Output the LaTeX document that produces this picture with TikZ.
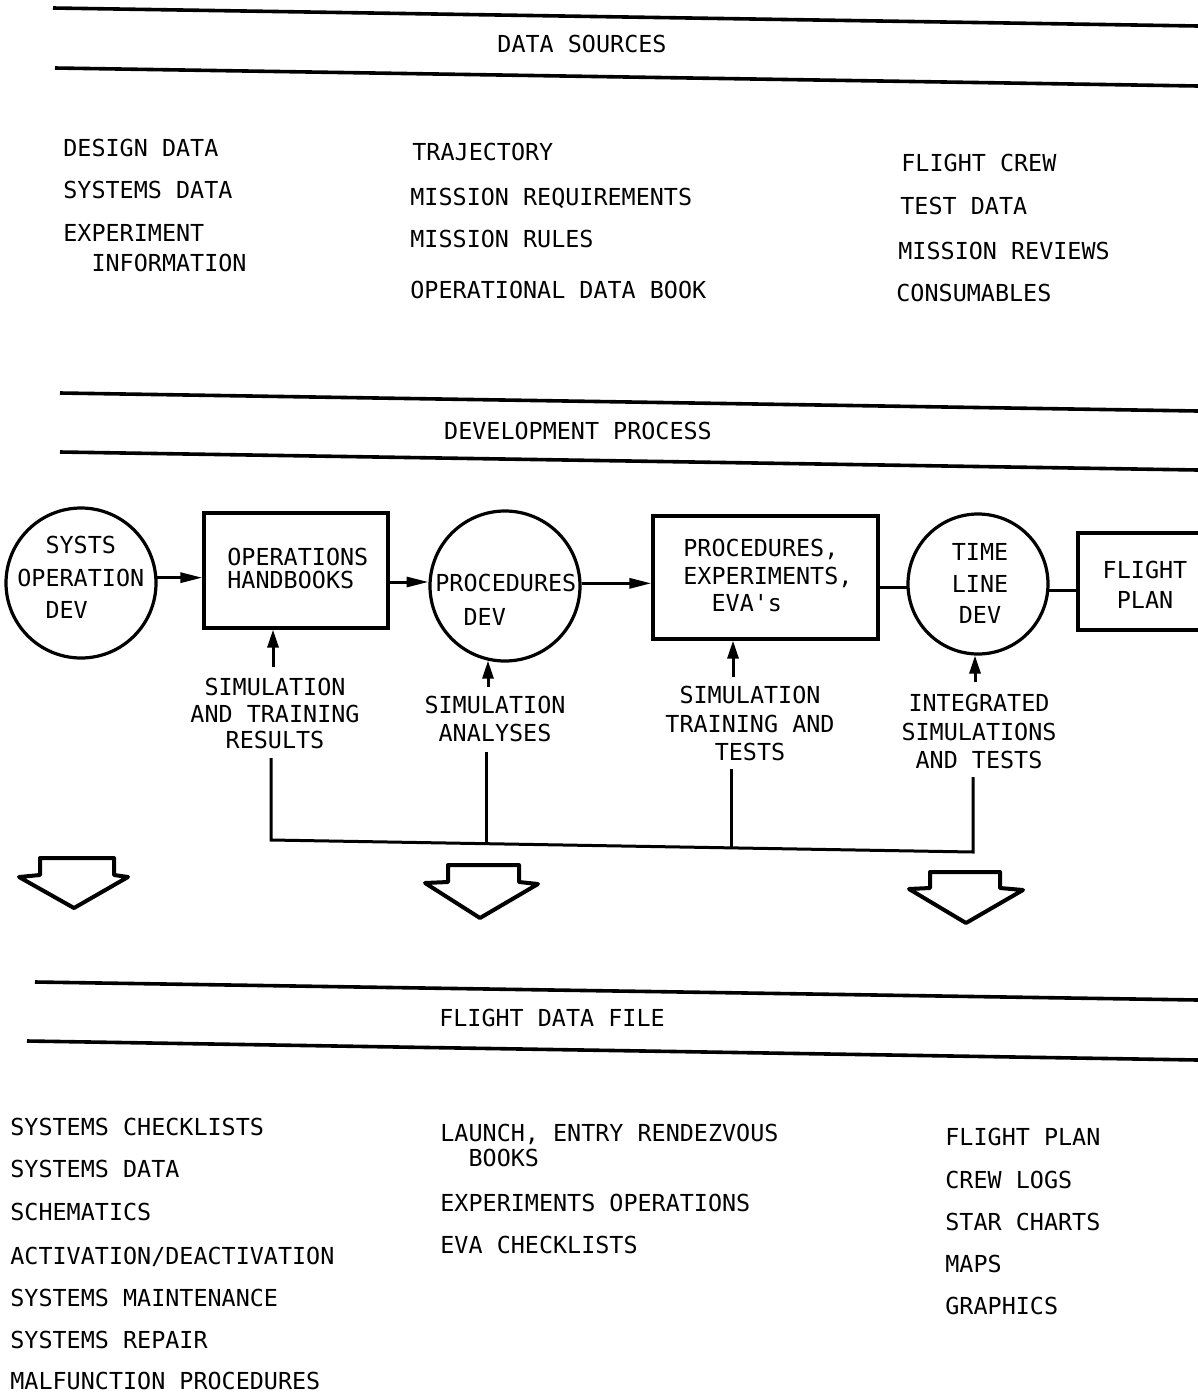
\documentclass[tikz,border=0pt]{standalone}
\usepackage{fontspec}
\newfontfamily\typew{DejaVu Sans Mono}
\usetikzlibrary{arrows.meta}
\newcommand\tfnt[1]{\typew\fontsize{11.7pt}{#1pt}\selectfont}
\begin{document}
\begin{tikzpicture}[x=0.5pt,y=-0.5pt,
  rule/.style={line width=1.8pt},
  shp/.style={draw, line width=1.6pt, inner sep=0pt},
  circ/.style={shp, circle},
  boxs/.style={shp, rectangle},
  lbl/.style={font={\tfnt{14}}, inner sep=0pt, align=center},
  item/.style={font={\tfnt{14}}, inner sep=0pt, anchor=west, text height=8.5pt, text depth=0pt},
  conn/.style={line width=1.5pt},
  arr/.style={conn, -{Triangle[length=11pt,width=5pt]}},
  uparr/.style={conn, -{Triangle[length=9pt,width=5.5pt]}},
  hollow/.style={line width=2pt, line join=round}]
\useasboundingbox (0,0) rectangle (1198,1393);
\clip (0,0) rectangle (1198,1393);

% rules
\draw[rule] (53,8) -- (1198,26);
\draw[rule] (55,68) -- (1198,86);
\draw[rule] (60,393) -- (1198,411);
\draw[rule] (60,452) -- (1198,470);
\draw[rule] (35,982) -- (1198,1000);
\draw[rule] (27,1041) -- (1198,1060);

% titles
\node[item, anchor=center] (ds) at (582,44) {DATA SOURCES};
\node[item, anchor=center] (dp) at (578,431) {DEVELOPMENT PROCESS};
\node[item, anchor=center] (fdf) at (552,1018) {FLIGHT DATA FILE};

% data sources
\node[item] (s11) at (63,148) {DESIGN DATA};
\node[item] (s12) at (63,190) {SYSTEMS DATA};
\node[lbl, align=left, anchor=west, font={\tfnt{15}}] (s13) at (63,248) {EXPERIMENT\\\phantom{XX}INFORMATION};
\node[item] (s21) at (412,152) {TRAJECTORY};
\node[item] (s22) at (410,197) {MISSION REQUIREMENTS};
\node[item] (s23) at (410,239) {MISSION RULES};
\node[item] (s24) at (410,290) {OPERATIONAL DATA BOOK};
\node[item] (s31) at (901,163) {FLIGHT CREW};
\node[item] (s32) at (900,206) {TEST DATA};
\node[item] (s33) at (898,251) {MISSION REVIEWS};
\node[item] (s34) at (896,293) {CONSUMABLES};

% process shapes
\node[circ, minimum size=75pt] (c1) at (81,583) {};
\node[boxs, minimum width=92pt, minimum height=57.5pt] (b1) at (296,570.5) {};
\node[circ, minimum size=75pt] (c2) at (505,586) {};
\node[boxs, minimum width=112.5pt, minimum height=61.5pt] (b2) at (765.5,577.5) {};
\node[circ, minimum size=70pt] (c3) at (978,584) {};
\node[boxs, minimum width=71pt, minimum height=48.5pt] (b3) at (1149,581.5) {};

% process texts
\node[lbl, align=left, anchor=west, font={\tfnt{16.25}}] (t1) at (17,577.5) {\phantom{XX}SYSTS\\OPERATION\\\phantom{XX}DEV};
\node[lbl, align=left, anchor=west, font={\tfnt{11.5}}] (t2) at (227,568.5) {OPERATIONS\\HANDBOOKS};
\node[lbl, align=left, anchor=west, font={\tfnt{17}}] (t3) at (435,600) {PROCEDURES\\\phantom{XX}DEV};
\node[lbl, align=left, anchor=west, font={\tfnt{13.75}}] (t4) at (683,575.5) {PROCEDURES,\\EXPERIMENTS,\\\phantom{XX}EVA's};
\node[lbl, font={\tfnt{15.75}}] (t5) at (980,583.5) {TIME\\LINE\\DEV};
\node[lbl, font={\tfnt{15}}] (t6) at (1145,585) {FLIGHT\\PLAN};

% connectors
\draw[arr] (c1.4) -- (c1.4 -| b1.west);
\draw[arr] (b1.east |- c2.177) -- (c2.177);
\draw[arr] (c2.2) -- (c2.2 -| b2.west);
\draw[conn] (b2.east |- c3.183) -- (c3.183);
\draw[conn] (c3.355) -- (c3.355 -| b3.west);

% input labels
\node[lbl, font={\tfnt{13.25}}] (l1) at (275,713.5) {SIMULATION\\AND TRAINING\\RESULTS};
\node[lbl, font={\tfnt{14}}] (l2) at (495,719) {SIMULATION\\ANALYSES};
\node[lbl, font={\tfnt{14.25}}] (l3) at (750,723.5) {SIMULATION\\TRAINING AND\\TESTS};
\node[lbl, font={\tfnt{14.25}}] (l4) at (979,731.5) {INTEGRATED\\SIMULATIONS\\AND TESTS};

% up arrows
\coordinate (a1s) at (273,667);
\coordinate (a2s) at (488,687);
\coordinate (a3s) at (733,677);
\coordinate (a4s) at (975,682);
\draw[uparr] (a1s) -- (a1s |- b1.south);
\draw[uparr] (a2s) -- (a2s |- c2.257);
\draw[uparr] (a3s) -- (a3s |- b2.south);
\draw[uparr] (a4s) -- (a4s |- c3.268);

% feedback bracket
\coordinate (v1) at (271,758);
\coordinate (v2) at (486,752);
\coordinate (v3) at (731,769);
\coordinate (v4) at (973,777);
\coordinate (h1) at (271,840);
\coordinate (h2) at (486,843.5);
\coordinate (h3) at (731,847.7);
\coordinate (h4) at (973,852);
\draw[conn, line join=miter] (v1) -- (h1) -- (h4) -- (v4);
\draw[conn] (v2) -- (h2);
\draw[conn] (v3) -- (h3);

% hollow arrows
\draw[hollow] (40,858) -- (114,858) -- (114,875) -- (128,877) -- (74,908) -- (19,877) -- (40,875) -- cycle;
\draw[hollow] (448,865) -- (519,865) -- (519,882) -- (538,884) -- (480,918) -- (425,883) -- (448,882) -- cycle;
\draw[hollow] (930,872) -- (1000,872) -- (1000,888) -- (1023,890) -- (966,923) -- (909,889) -- (930,888) -- cycle;

% flight data file
\node[item] (f11) at (10,1127) {SYSTEMS CHECKLISTS};
\node[item] (f12) at (10,1169) {SYSTEMS DATA};
\node[item] (f13) at (10,1212) {SCHEMATICS};
\node[item] (f14) at (10,1256) {ACTIVATION/DEACTIVATION};
\node[item] (f15) at (10,1298) {SYSTEMS MAINTENANCE};
\node[item] (f16) at (10,1340) {SYSTEMS REPAIR};
\node[item] (f17) at (10,1381) {MALFUNCTION PROCEDURES};
\node[lbl, align=left, anchor=west, font={\tfnt{12.5}}] (f21) at (440,1145.5) {LAUNCH, ENTRY RENDEZVOUS\\\phantom{XX}BOOKS};
\node[item] (f22) at (440,1203) {EXPERIMENTS OPERATIONS};
\node[item] (f23) at (440,1245) {EVA CHECKLISTS};
\node[item] (f31) at (945,1137) {FLIGHT PLAN};
\node[item] (f32) at (945,1180) {CREW LOGS};
\node[item] (f33) at (945,1222) {STAR CHARTS};
\node[item] (f34) at (945,1264) {MAPS};
\node[item] (f35) at (945,1306) {GRAPHICS};
\end{tikzpicture}
\end{document}
